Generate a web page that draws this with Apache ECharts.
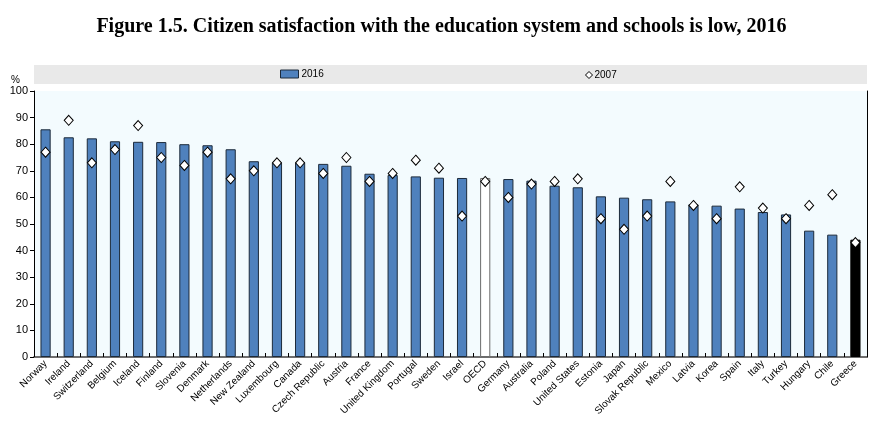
<!DOCTYPE html>
<html>
<head>
<meta charset="utf-8">
<script src="https://cdn.jsdelivr.net/npm/echarts@6/dist/echarts.min.js"></script>
<style>
  html, body { margin: 0; padding: 0; background: #fff; }
  #chart { width: 883px; height: 437px; }
</style>
</head>
<body>
<div id="chart"></div>
<script>
// countries, ordered as in the figure
var countries = ['Norway', 'Ireland', 'Switzerland', 'Belgium', 'Iceland', 'Finland', 'Slovenia', 'Denmark',
  'Netherlands', 'New Zealand', 'Luxembourg', 'Canada', 'Czech Republic', 'Austria', 'France',
  'United Kingdom', 'Portugal', 'Sweden', 'Israel', 'OECD', 'Germany', 'Australia', 'Poland',
  'United States', 'Estonia', 'Japan', 'Slovak Republic', 'Mexico', 'Latvia', 'Korea', 'Spain',
  'Italy', 'Turkey', 'Hungary', 'Chile', 'Greece'];

var values2016 = [85.6, 82.6, 82.2, 81.1, 80.9, 80.8, 80.0, 79.6, 78.1, 73.6, 73.1, 73.1, 72.6, 71.9,
  68.9, 68.4, 67.9, 67.4, 67.3, 67.3, 66.9, 66.3, 64.4, 63.8, 60.4, 59.9, 59.3, 58.5, 57.4, 56.9,
  55.8, 54.5, 53.6, 47.5, 46.0, 44.1];

var values2007 = [77, 89, 73, 78, 87, 75, 72, 77, 67, 70, 73, 73, 69, 75, 66, 69, 74, 71, 53, 66,
  60, 65, 66, 67, 52, 48, 53, 66, 57, 52, 64, 56, 52, 57, 61, 43];

var yTicks = [0, 10, 20, 30, 40, 50, 60, 70, 80, 90, 100];

var chart = echarts.init(document.getElementById('chart'));

var barData = values2016.map(function (v, i) {
  var c = countries[i];
  if (c === 'OECD') {
    return { value: v, itemStyle: { color: '#ffffff', borderColor: '#6b6b6b' } };
  }
  if (c === 'Greece') {
    return { value: v, itemStyle: { color: '#000000', borderColor: '#000000' } };
  }
  return v;
});

chart.setOption({
  animation: false,
  textStyle: { fontFamily: 'Liberation Sans, Arial, sans-serif' },
  title: {
    text: 'Figure 1.5. Citizen satisfaction with the education system and schools is low, 2016',
    left: 'center',
    top: 12,
    textStyle: {
      fontFamily: 'Liberation Serif, Times New Roman, serif',
      fontWeight: 'bold',
      fontSize: 20,
      color: '#000'
    }
  },
  graphic: [
    { type: 'rect', left: 34, top: 65, shape: { width: 833, height: 19 }, style: { fill: '#e9e9e9' }, z: -1 },
    { type: 'text', left: 11, top: 75, style: { text: '%', fontSize: 10, fill: '#000', fontFamily: 'Liberation Sans, Arial' } }
  ],
  legend: [
    {
      data: [{ name: '2016', icon: 'rect' }],
      left: 280, top: 69,
      itemWidth: 18, itemHeight: 8, itemGap: 4,
      itemStyle: { color: '#4f81bd', borderColor: '#1c2a3a', borderWidth: 1 },
      textStyle: { fontSize: 10, color: '#000', padding: [0, 0, 0, -2] },
      padding: 0
    },
    {
      data: [{ name: '2007', icon: 'diamond' }],
      left: 585, top: 70,
      itemWidth: 7, itemHeight: 7,
      itemStyle: { color: '#ffffff', borderColor: '#000000', borderWidth: 1 },
      textStyle: { fontSize: 10, color: '#000', padding: [0, 0, 0, -3] },
      padding: 0
    }
  ],
  grid: {
    left: 34, right: 16, top: 91, bottom: 80,
    show: true,
    backgroundColor: '#f3fbfe',
    borderWidth: 0
  },
  xAxis: [
    {
      type: 'category',
      data: countries,
      axisLine: { lineStyle: { color: '#000', width: 1 } },
      axisTick: { show: true, inside: true, length: 4, lineStyle: { color: '#000' } },
      axisLabel: { interval: 0, rotate: 45, fontSize: 10, color: '#000', margin: 5 },
      splitLine: { show: false }
    },
    {
      type: 'category',
      position: 'top',
      data: countries,
      axisLine: { lineStyle: { color: '#6e6e6e', width: 2 } },
      axisTick: { show: false },
      axisLabel: { show: false }
    }
  ],
  yAxis: [
    {
      type: 'value',
      min: 0, max: 100, interval: 10,
      axisLine: { show: true, lineStyle: { color: '#000' } },
      axisTick: { show: true, length: 4, lineStyle: { color: '#000' } },
      axisLabel: {
        fontSize: 11, color: '#000', margin: 6,
        formatter: function (v) { return yTicks.indexOf(v) >= 0 ? String(v) : ''; }
      },
      splitLine: { show: false }
    },
    {
      type: 'value',
      position: 'right',
      min: 0, max: 100,
      axisLine: { show: true, lineStyle: { color: '#000' } },
      axisTick: { show: false },
      axisLabel: { show: false },
      splitLine: { show: false }
    }
  ],
  series: [
    {
      name: '2016',
      type: 'bar',
      data: barData,
      barWidth: '44%',
      itemStyle: { color: '#4f81bd', borderColor: '#1c2a3a', borderWidth: 1 }
    },
    {
      name: '2007',
      type: 'scatter',
      data: values2007,
      symbol: 'diamond',
      symbolSize: [9, 10],
      itemStyle: { color: '#ffffff', borderColor: '#000000', borderWidth: 1, opacity: 1 },
      z: 5
    }
  ]
});
</script>
</body>
</html>
